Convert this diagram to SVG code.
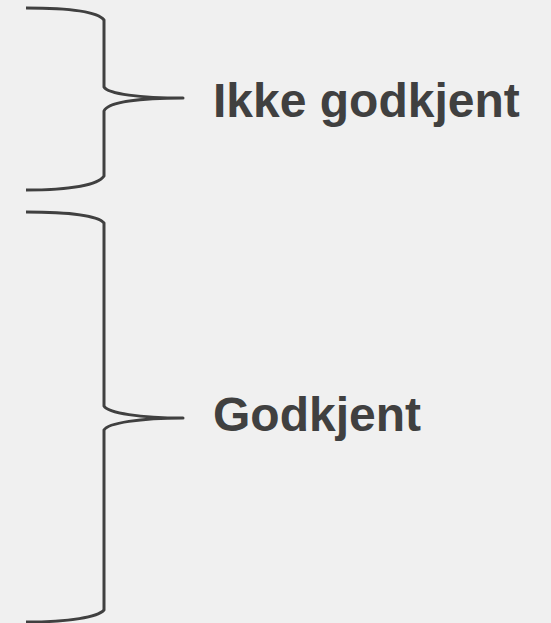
<svg xmlns="http://www.w3.org/2000/svg" width="551" height="623" viewBox="0 0 551 623">
<style>
.brace{fill:none;stroke:#404040;stroke-width:3;stroke-linejoin:round}
.lbl{font-family:"Liberation Sans",Arial,sans-serif;font-weight:bold;font-size:48px;fill:#404040}
</style>
<rect width="551" height="623" fill="#f0f0f0"/>
<g id="connectors">
<path id="brace1" class="brace" d="M26,8 C70,8 98,12 104,20 L104,87 C108,94 140,98 183,98 C140,98 108,102 104,111 L104,176 C98,185 70,190 26,190"/>
<path id="brace2" class="brace" d="M26,212 C70,212 98,216 104,223 L104,406 C108,413 140,418 183,418 C140,418 108,423 104,430 L104,610 C98,617 70,622 26,622"/>
</g>
<g id="node-ikke">
<text class="lbl" x="213" y="117">Ikke godkjent</text>
</g>
<g id="node-godkjent">
<text class="lbl" x="213" y="431">Godkjent</text>
</g>
</svg>
